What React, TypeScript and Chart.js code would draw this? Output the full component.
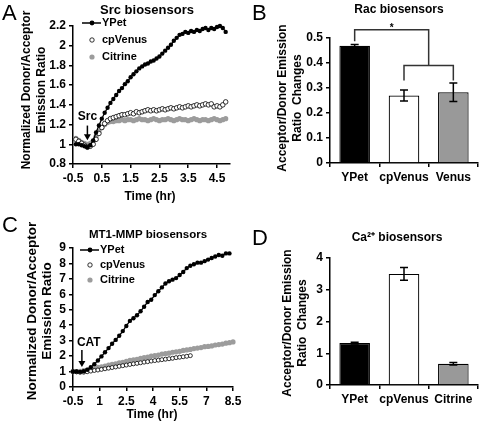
import React, { useEffect, useRef } from "react";
import { Chart, registerables } from "chart.js";
Chart.register(...registerables);

const FONT = "'Liberation Sans', Arial, Helvetica, sans-serif";
const GRAY = "#9c9c9c";
const BAR_GRAY = "#999999";

// ---------- Panel A : Src biosensors ----------
const timeA = [-0.4, -0.3, -0.2, -0.1, 0, 0.1, 0.2, 0.3, 0.4, 0.5, 0.6, 0.7, 0.8, 0.9, 1, 1.1, 1.2, 1.3, 1.4, 1.5, 1.6, 1.7, 1.8, 1.9, 2, 2.1, 2.2, 2.3, 2.4, 2.5, 2.6, 2.7, 2.8, 2.9, 3, 3.1, 3.2, 3.3, 3.4, 3.5, 3.6, 3.7, 3.8, 3.9, 4, 4.1, 4.2, 4.3, 4.4, 4.5, 4.6, 4.7, 4.8];
const ypetA = [1.0, 1.0, 0.99, 0.98, 0.97, 0.99, 1.04, 1.12, 1.19, 1.26, 1.32, 1.37, 1.42, 1.46, 1.5, 1.54, 1.57, 1.61, 1.64, 1.68, 1.71, 1.74, 1.77, 1.79, 1.81, 1.82, 1.84, 1.85, 1.87, 1.89, 1.92, 1.95, 1.98, 2.01, 2.05, 2.08, 2.11, 2.12, 2.14, 2.13, 2.15, 2.14, 2.16, 2.15, 2.17, 2.18, 2.16, 2.18, 2.17, 2.19, 2.2, 2.18, 2.14];
const cpVenusA = [1.05, 1.03, 1.01, 0.99, 0.97, 0.98, 1.0, 1.05, 1.11, 1.17, 1.21, 1.24, 1.26, 1.27, 1.28, 1.29, 1.3, 1.3, 1.31, 1.32, 1.31, 1.33, 1.32, 1.33, 1.34, 1.35, 1.34, 1.35, 1.34, 1.35, 1.36, 1.35, 1.36, 1.37, 1.36, 1.37, 1.38, 1.37, 1.38, 1.39, 1.38, 1.39, 1.4, 1.39, 1.4, 1.41, 1.4, 1.41, 1.38, 1.39, 1.38, 1.4, 1.43];
const citrineA = [1.06, 1.04, 1.02, 1.01, 1.0, 1.01, 1.03, 1.08, 1.13, 1.17, 1.2, 1.22, 1.23, 1.23, 1.24, 1.24, 1.25, 1.24, 1.25, 1.25, 1.24, 1.25, 1.26, 1.25, 1.25, 1.24, 1.25, 1.26, 1.25, 1.24, 1.25, 1.25, 1.26, 1.25, 1.24, 1.25, 1.26, 1.25, 1.25, 1.24, 1.25, 1.26, 1.25, 1.24, 1.25, 1.25, 1.24, 1.25, 1.26, 1.25, 1.24, 1.25, 1.26];
const xTicksA = [-0.5, 0.5, 1.5, 2.5, 3.5, 4.5];
const yTicksA = [0.8, 1, 1.2, 1.4, 1.6, 1.8, 2, 2.2];

// ---------- Panel C : MT1-MMP biosensors ----------
const timeC = [-0.5, -0.3, -0.1, 0.1, 0.3, 0.5, 0.7, 0.9, 1.1, 1.3, 1.5, 1.7, 1.9, 2.1, 2.3, 2.5, 2.7, 2.9, 3.1, 3.3, 3.5, 3.7, 3.9, 4.1, 4.3, 4.5, 4.7, 4.9, 5.1, 5.3, 5.5, 5.7, 5.9, 6.1, 6.3, 6.5, 6.7, 6.9, 7.1, 7.3, 7.5, 7.7, 7.9, 8.1, 8.3, 8.5];
const ypetC = [1.0, 1.0, 0.98, 1.02, 1.12, 1.28, 1.48, 1.72, 1.98, 2.25, 2.52, 2.8, 3.05, 3.32, 3.62, 3.95, 4.28, 4.45, 4.65, 4.9, 5.2, 5.5, 5.65, 5.95, 6.2, 6.45, 6.7, 6.85, 6.95, 7.05, 7.25, 7.45, 7.7, 7.85, 7.95, 8.05, 8.05, 8.15, 8.25, 8.35, 8.45, 8.55, 8.5, 8.65, 8.65];
const cpVenusC = [1.0, 0.98, 0.95, 0.96, 0.99, 1.03, 1.07, 1.1, 1.14, 1.18, 1.22, 1.26, 1.3, 1.34, 1.38, 1.42, 1.46, 1.5, 1.53, 1.57, 1.61, 1.64, 1.68, 1.71, 1.74, 1.77, 1.8, 1.83, 1.86, 1.9, 1.93, 1.96, 1.99, 2.03];
const citrineC = [1.0, 1.0, 1.02, 1.06, 1.1, 1.14, 1.2, 1.27, 1.31, 1.35, 1.42, 1.46, 1.5, 1.57, 1.6, 1.66, 1.72, 1.75, 1.79, 1.86, 1.9, 1.93, 2.0, 2.03, 2.07, 2.13, 2.16, 2.19, 2.25, 2.28, 2.31, 2.37, 2.4, 2.43, 2.49, 2.52, 2.55, 2.61, 2.63, 2.66, 2.72, 2.75, 2.78, 2.84, 2.87, 2.92];
const xTicksC = [-0.5, 1, 2.5, 4, 5.5, 7, 8.5];
const yTicksC = [0, 1, 2, 3, 4, 5, 6, 7, 8, 9];

// ---------- Panel B : Rac biosensors ----------
const racLabels = ["YPet", "cpVenus", "Venus"];
const racValues = [0.469, 0.27, 0.283];
const racErrors = [0.005, 0.022, 0.037];
const yTicksB = [0, 0.1, 0.2, 0.3, 0.4, 0.5];

// ---------- Panel D : Ca2+ biosensors ----------
const caLabels = ["YPet", "cpVenus", "Citrine"];
const caValues = [1.32, 3.5, 0.67];
const caErrors = [0.03, 0.2, 0.04];
const yTicksD = [0, 1, 2, 3, 4];

const seriesNames = ["YPet", "cpVenus", "Citrine"];

type Txt = { s: string; x: number; y: number; size: number; bold?: boolean; align?: CanvasTextAlign; rot?: number };

function drawTexts(ctx: CanvasRenderingContext2D, items: Txt[]) {
  items.forEach((t) => {
    ctx.save();
    ctx.translate(t.x, t.y);
    if (t.rot) ctx.rotate(t.rot);
    ctx.font = `${t.bold === false ? "" : "bold "}${t.size}px ${FONT}`;
    ctx.fillStyle = "#000";
    ctx.textAlign = t.align || "center";
    ctx.textBaseline = "middle";
    ctx.fillText(t.s, 0, 0);
    ctx.restore();
  });
}

function dot(ctx: CanvasRenderingContext2D, x: number, y: number, r: number, fill: string, stroke: string | null, lw = 0.8) {
  ctx.beginPath();
  ctx.arc(x, y, r, 0, Math.PI * 2);
  ctx.fillStyle = fill;
  ctx.fill();
  if (stroke) {
    ctx.lineWidth = lw;
    ctx.strokeStyle = stroke;
    ctx.stroke();
  }
}

function drawLegend(ctx: CanvasRenderingContext2D, x: number, ys: number[]) {
  ctx.save();
  ctx.strokeStyle = "#000";
  ctx.lineWidth = 1.5;
  ctx.beginPath();
  ctx.moveTo(x - 10, ys[0]);
  ctx.lineTo(x + 9, ys[0]);
  ctx.stroke();
  dot(ctx, x, ys[0], 2.4, "#000", null);
  dot(ctx, x, ys[1], 2.2, "#fff", "#000");
  dot(ctx, x, ys[2], 2.6, GRAY, null);
  ctx.restore();
  drawTexts(
    ctx,
    seriesNames.map((s, i) => ({ s, x: x + 10, y: ys[i], size: 11, align: "left" as CanvasTextAlign }))
  );
}

function drawArrow(ctx: CanvasRenderingContext2D, x: number, y1: number, y2: number) {
  ctx.save();
  ctx.strokeStyle = "#000";
  ctx.fillStyle = "#000";
  ctx.lineWidth = 1.5;
  ctx.beginPath();
  ctx.moveTo(x, y1);
  ctx.lineTo(x, y2 - 4);
  ctx.stroke();
  ctx.beginPath();
  ctx.moveTo(x - 3.5, y2 - 6);
  ctx.lineTo(x + 3.5, y2 - 6);
  ctx.lineTo(x, y2);
  ctx.closePath();
  ctx.fill();
  ctx.restore();
}

const tickFont = { family: FONT, size: 12, weight: "bold" as const };

function axisCommon() {
  return {
    grid: { drawOnChartArea: false, color: "#000", lineWidth: 1.5, tickLength: 4 },
    border: { color: "#000", width: 1.5 },
  };
}

function pairs(t: number[], v: number[]) {
  return v.map((y, i) => ({ x: t[i], y }));
}

function scatterConfig(p: {
  time: number[];
  ypet: number[];
  cpv: number[];
  cit: number[];
  xMin: number;
  xMax: number;
  xTicks: number[];
  yMin: number;
  yMax: number;
  yTicks: number[];
  pad: { top: number; right: number };
  yWidth: number;
  xHeight: number;
  cpRadius: number;
  extra: (chart: any) => void;
}) {
  return {
    type: "scatter",
    data: {
      datasets: [
        {
          label: "YPet",
          data: pairs(p.time, p.ypet),
          showLine: true,
          borderColor: "#000",
          borderWidth: 1.3,
          pointRadius: 2.2,
          pointBackgroundColor: "#000",
          pointBorderColor: "#000",
          pointBorderWidth: 0,
          order: 0,
          clip: false,
        },
        {
          label: "cpVenus",
          data: pairs(p.time, p.cpv),
          showLine: false,
          pointRadius: p.cpRadius,
          pointBackgroundColor: "#fff",
          pointBorderColor: "#000",
          pointBorderWidth: 0.8,
          order: 1,
          clip: false,
        },
        {
          label: "Citrine",
          data: pairs(p.time, p.cit),
          showLine: false,
          pointRadius: 2.6,
          pointBackgroundColor: GRAY,
          pointBorderColor: GRAY,
          pointBorderWidth: 0,
          order: 2,
          clip: false,
        },
      ],
    },
    options: {
      responsive: false,
      animation: false,
      devicePixelRatio: 1,
      layout: { padding: { left: 0, top: p.pad.top, right: p.pad.right, bottom: 0 } },
      plugins: { legend: { display: false }, tooltip: { enabled: false }, title: { display: false } },
      scales: {
        x: {
          type: "linear",
          min: p.xMin,
          max: p.xMax,
          afterBuildTicks: (s: any) => {
            s.ticks = p.xTicks.map((value) => ({ value }));
          },
          afterFit: (s: any) => {
            s.height = p.xHeight;
          },
          ...axisCommon(),
          ticks: { font: tickFont, color: "#000", padding: 3, maxRotation: 0, autoSkip: false, callback: (v: any) => String(v) },
        },
        y: {
          type: "linear",
          min: p.yMin,
          max: p.yMax,
          afterBuildTicks: (s: any) => {
            s.ticks = p.yTicks.map((value) => ({ value }));
          },
          afterFit: (s: any) => {
            s.width = p.yWidth;
          },
          ...axisCommon(),
          ticks: { font: tickFont, color: "#000", padding: 3, autoSkip: false, callback: (v: any) => String(v) },
        },
      },
    },
    plugins: [{ id: "extras", afterDraw: (chart: any) => p.extra(chart) }],
  };
}

function barConfig(p: {
  labels: string[];
  values: number[];
  errors: number[];
  yMax: number;
  yTicks: number[];
  pad: { top: number; right: number };
  yWidth: number;
  xHeight: number;
  extra: (chart: any) => void;
}) {
  return {
    type: "bar",
    data: {
      labels: p.labels,
      datasets: [
        {
          data: p.values,
          backgroundColor: ["#000", "#fff", BAR_GRAY],
          borderColor: "#000",
          borderWidth: 1.2,
          borderSkipped: "start",
          barPercentage: 0.62,
          categoryPercentage: 1,
        },
      ],
    },
    options: {
      responsive: false,
      animation: false,
      devicePixelRatio: 1,
      layout: { padding: { left: 0, top: p.pad.top, right: p.pad.right, bottom: 0 } },
      plugins: { legend: { display: false }, tooltip: { enabled: false }, title: { display: false } },
      scales: {
        x: {
          type: "category",
          afterFit: (s: any) => {
            s.height = p.xHeight;
          },
          ...axisCommon(),
          ticks: { font: tickFont, color: "#000", padding: 3, maxRotation: 0, autoSkip: false },
        },
        y: {
          type: "linear",
          min: 0,
          max: p.yMax,
          afterBuildTicks: (s: any) => {
            s.ticks = p.yTicks.map((value) => ({ value }));
          },
          afterFit: (s: any) => {
            s.width = p.yWidth;
          },
          ...axisCommon(),
          ticks: { font: tickFont, color: "#000", padding: 3, autoSkip: false, callback: (v: any) => String(v) },
        },
      },
    },
    plugins: [
      {
        id: "errorBars",
        afterDatasetsDraw: (chart: any) => {
          const ctx = chart.ctx;
          const ys = chart.scales.y;
          const meta = chart.getDatasetMeta(0);
          ctx.save();
          ctx.strokeStyle = "#000";
          ctx.lineWidth = 1.5;
          meta.data.forEach((bar: any, i: number) => {
            const top = ys.getPixelForValue(p.values[i] + p.errors[i]);
            const bot = ys.getPixelForValue(p.values[i] - p.errors[i]);
            ctx.beginPath();
            ctx.moveTo(bar.x, top);
            ctx.lineTo(bar.x, bot);
            ctx.moveTo(bar.x - 4, top);
            ctx.lineTo(bar.x + 4, top);
            ctx.moveTo(bar.x - 4, bot);
            ctx.lineTo(bar.x + 4, bot);
            ctx.stroke();
          });
          ctx.restore();
        },
      },
      { id: "extras", afterDraw: (chart: any) => p.extra(chart) },
    ],
  };
}

const HALF = -Math.PI / 2;

function makeA() {
  return scatterConfig({
    time: timeA,
    ypet: ypetA,
    cpv: cpVenusA,
    cit: citrineA,
    xMin: -0.5,
    xMax: 4.95,
    xTicks: xTicksA,
    yMin: 0.8,
    yMax: 2.2,
    yTicks: yTicksA,
    pad: { top: 26, right: 15 },
    yWidth: 73,
    xHeight: 49,
    cpRadius: 2.3,
    extra: (chart) => {
      const ctx = chart.ctx;
      const xs = chart.scales.x;
      const ys = chart.scales.y;
      drawTexts(ctx, [
        { s: "A", x: 2, y: 14, size: 22, bold: false, align: "left" },
        { s: "Src biosensors", x: 147, y: 10, size: 13 },
        { s: "Normalized Donor/Acceptor", x: 27, y: 90, size: 12, rot: HALF },
        { s: "Emission Ratio", x: 42, y: 90, size: 12, rot: HALF },
        { s: "Time (hr)", x: 150, y: 197, size: 12 },
      ]);
      drawLegend(ctx, 92, [23, 40, 57]);
      const ax = xs.getPixelForValue(0);
      drawTexts(ctx, [{ s: "Src", x: ax, y: ys.getPixelForValue(1.28), size: 12 }]);
      drawArrow(ctx, ax, ys.getPixelForValue(1.19), ys.getPixelForValue(1.04));
    },
  });
}

function makeC() {
  return scatterConfig({
    time: timeC,
    ypet: ypetC,
    cpv: cpVenusC,
    cit: citrineC,
    xMin: -0.5,
    xMax: 8.5,
    xTicks: xTicksC,
    yMin: 0,
    yMax: 9,
    yTicks: yTicksC,
    pad: { top: 35, right: 12 },
    yWidth: 73,
    xHeight: 39,
    cpRadius: 2.0,
    extra: (chart) => {
      const ctx = chart.ctx;
      const xs = chart.scales.x;
      const ys = chart.scales.y;
      drawTexts(ctx, [
        { s: "C", x: 2, y: 13, size: 22, bold: false, align: "left" },
        { s: "MT1-MMP biosensors", x: 148, y: 22, size: 11.5 },
        { s: "Normalized Donor/Acceptor", x: 32, y: 98, size: 13.5, rot: HALF },
        { s: "Emission Ratio", x: 47, y: 98, size: 13.5, rot: HALF },
        { s: "Time (hr)", x: 152, y: 202, size: 12 },
      ]);
      drawLegend(ctx, 90, [37, 52, 67]);
      const ax = xs.getPixelForValue(0);
      drawTexts(ctx, [{ s: "CAT", x: ax - 5, y: ys.getPixelForValue(2.85), size: 12, align: "left" }]);
      drawArrow(ctx, ax, ys.getPixelForValue(2.4), ys.getPixelForValue(1.3));
    },
  });
}

function makeB() {
  return barConfig({
    labels: racLabels,
    values: racValues,
    errors: racErrors,
    yMax: 0.5,
    yTicks: yTicksB,
    pad: { top: 38, right: 12 },
    yWidth: 85,
    xHeight: 50,
    extra: (chart) => {
      const ctx = chart.ctx;
      const xs = chart.scales.x;
      const ys = chart.scales.y;
      drawTexts(ctx, [
        { s: "B", x: 7, y: 14, size: 22, bold: false, align: "left" },
        { s: "Rac biosensors", x: 154, y: 10, size: 12 },
        { s: "Acceptor/Donor Emission", x: 38, y: 98, size: 12, rot: HALF },
        { s: "Ratio  Changes", x: 53, y: 98, size: 12, rot: HALF },
      ]);
      const x0 = xs.getPixelForValue(0);
      const x1 = xs.getPixelForValue(1);
      const x2 = xs.getPixelForValue(2);
      const xm = (x1 + x2) / 2;
      const yTop = ys.getPixelForValue(0.533);
      const yMid = ys.getPixelForValue(0.39);
      ctx.save();
      ctx.strokeStyle = "#333";
      ctx.lineWidth = 1.5;
      ctx.beginPath();
      ctx.moveTo(x0, ys.getPixelForValue(0.487));
      ctx.lineTo(x0, yTop);
      ctx.lineTo(xm, yTop);
      ctx.lineTo(xm, yMid);
      ctx.moveTo(x1, ys.getPixelForValue(0.33));
      ctx.lineTo(x1, yMid);
      ctx.lineTo(x2, yMid);
      ctx.lineTo(x2, ys.getPixelForValue(0.33));
      ctx.stroke();
      ctx.restore();
      drawTexts(ctx, [{ s: "*", x: (x0 + xm) / 2, y: yTop - 2, size: 10 }]);
    },
  });
}

function makeD() {
  return barConfig({
    labels: caLabels,
    values: caValues,
    errors: caErrors,
    yMax: 4,
    yTicks: yTicksD,
    pad: { top: 45, right: 12 },
    yWidth: 85,
    xHeight: 41,
    extra: (chart) => {
      const ctx = chart.ctx;
      drawTexts(ctx, [
        { s: "D", x: 7, y: 26, size: 22, bold: false, align: "left" },
        { s: "Ca²⁺ biosensors", x: 152, y: 25, size: 12 },
        { s: "Acceptor/Donor Emission", x: 43, y: 110, size: 12, rot: HALF },
        { s: "Ratio  Changes", x: 58, y: 110, size: 12, rot: HALF },
      ]);
    },
  });
}

function Panel({ make, left, top }: { make: () => any; left: number; top: number }) {
  const ref = useRef<HTMLCanvasElement | null>(null);
  useEffect(() => {
    if (!ref.current) return;
    const chart = new Chart(ref.current, make());
    return () => chart.destroy();
  }, [make]);
  return (
    <canvas
      ref={ref}
      width={245}
      height={213}
      style={{ position: "absolute", left, top, width: 245, height: 213 }}
    />
  );
}

export default function App() {
  return (
    <div style={{ position: "absolute", left: 0, top: 0, width: 490, height: 426, background: "#fff" }}>
      <Panel make={makeA} left={0} top={0} />
      <Panel make={makeB} left={245} top={0} />
      <Panel make={makeC} left={0} top={213} />
      <Panel make={makeD} left={245} top={213} />
    </div>
  );
}
